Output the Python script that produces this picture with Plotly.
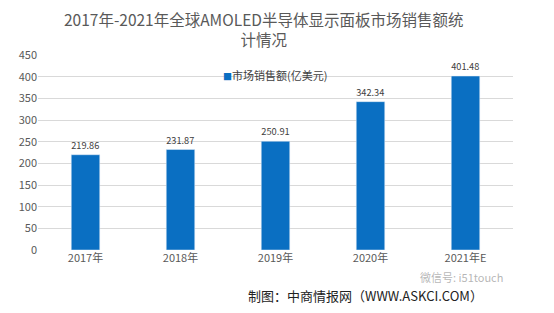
import plotly.graph_objects as go

years = ["2017年", "2018年", "2019年", "2020年", "2021年E"]
sales = [219.86, 231.87, 250.91, 342.34, 401.48]
yticks = [0, 50, 100, 150, 200, 250, 300, 350, 400, 450]
series_name = "市场销售额(亿美元)"

font = "Noto Sans CJK SC"
color = "#0a6fc2"
fig = go.Figure()
fig.add_trace(go.Bar(
    x=years, y=sales, name=series_name,
    marker=dict(color=color),
    width=0.3, showlegend=False,
    text=[f"{v:.2f}" for v in sales], textposition="outside",
    textfont=dict(size=10, color="#404040", family=font),
    cliponaxis=False,
))
fig.update_layout(
    width=554, height=313,
    margin=dict(l=38, r=41, t=55, b=63),
    paper_bgcolor="white", plot_bgcolor="white",
    showlegend=False,
    xaxis=dict(showline=False, ticks="", tickfont=dict(size=11, color="#595959", family=font)),
    yaxis=dict(range=[0, 450], tickvals=yticks, gridcolor="#d9d9d9", zeroline=False,
               tickfont=dict(size=11, color="#595959", family=font)),
    font=dict(family=font),
)
fig.add_annotation(text=f"<span style='color:{color}; font-size:9px'>■</span>{series_name}",
                   xref="paper", yref="paper", x=0.386, y=0.9, xanchor="left", yanchor="middle",
                   showarrow=False, font=dict(size=11, color="#404040", family=font))
fig.add_annotation(text="2017年-2021年全球AMOLED半导体显示面板市场销售额统<br>计情况",
                   xref="paper", yref="paper", x=0.474, y=1.25, xanchor="center", yanchor="top",
                   showarrow=False, align="center",
                   font=dict(size=15.5, color="#595959", family=font))
fig.add_annotation(text="微信号: i51touch", xref="paper", yref="paper",
                   x=0.983, y=-0.138, xanchor="right", yanchor="middle", showarrow=False,
                   font=dict(size=11, color="rgba(150,150,150,0.7)", family=font))
fig.add_annotation(text="制图：中商情报网（WWW.ASKCI.COM）", xref="paper", yref="paper",
                   x=0.941, y=-0.235, xanchor="right", yanchor="middle", showarrow=False,
                   font=dict(size=13, color="#222222", family=font))
fig.write_html("out.html")
